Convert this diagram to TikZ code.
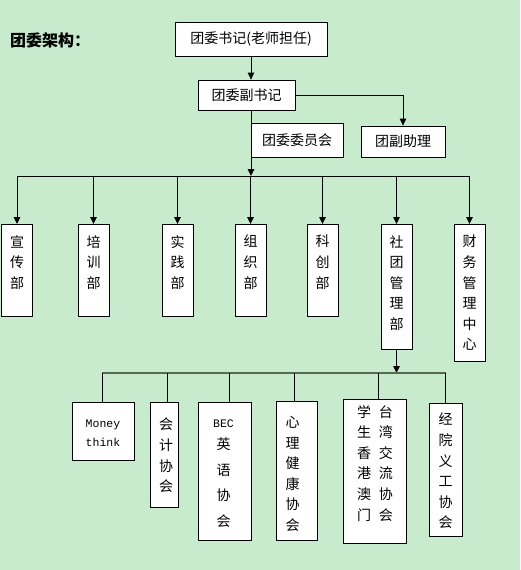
\documentclass[tikz,border=0pt]{standalone}
\usepackage{fontspec}
\setmainfont{Noto Sans CJK SC}
\newfontfamily\monofont{Liberation Mono}
\usetikzlibrary{arrows.meta}
\definecolor{bg}{RGB}{199,235,204}
\definecolor{gline}{RGB}{85,105,85}
\begin{document}
\begin{tikzpicture}[x=1pt,y=-1pt,
  box/.style={draw, fill=white, line width=0.8pt, inner sep=0pt, anchor=north},
  hbox/.style={draw, fill=white, line width=0.8pt, inner sep=0pt, font=\fontsize{14}{17}\selectfont},
  txt/.style={font=\fontsize{14}{20.6}\selectfont, align=center, inner sep=0pt, anchor=north},
  conn/.style={line width=0.9pt},
  arr/.style={conn, -{Triangle[width=6.5pt,length=7pt]}},
]
\fill[bg] (0,0) rectangle (520,570);
\useasboundingbox (0,0) rectangle (520,570);

% title
\node[anchor=west, inner sep=0pt, font=\fontsize{16}{18}\selectfont\bfseries] (title) at (10,40) {团委架构：};

% top part
\node[hbox, minimum width=152pt, minimum height=34pt] (t1) at (251,39) {团委书记(老师担任)};
\node[hbox, minimum width=97pt, minimum height=30pt] (t2) at (246.5,95) {团委副书记};
\node[hbox, minimum width=92pt, minimum height=34pt] (t3) at (297,140) {团委委员会};
\node[hbox, minimum width=84pt, minimum height=31pt] (t4) at (403,141.5) {团副助理};

\coordinate (bus1) at (251,176);
\coordinate (bus2) at (397,373);

\draw[arr] (t1.south) -- (t1.south |- t2.north);
\draw[arr] (t2.east) -| (t4.north);
\draw[arr] (t1.south |- t2.south) -- (bus1);

% departments
\node[box, minimum width=31pt, minimum height=92pt] (d1) at (17,224) {};
\node[box, minimum width=31pt, minimum height=92pt] (d2) at (93.5,224) {};
\node[box, minimum width=31pt, minimum height=92pt] (d3) at (177.5,224) {};
\node[box, minimum width=31pt, minimum height=92pt] (d4) at (250.5,224) {};
\node[box, minimum width=31pt, minimum height=92pt] (d5) at (322.5,224) {};
\node[box, minimum width=31pt, minimum height=125pt] (d6) at (396.5,224) {};
\node[box, minimum width=31pt, minimum height=137pt] (d7) at (469.5,224) {};

\node[txt] (d1t) at ([yshift=-11pt]d1.north) {宣\\传\\部};
\node[txt] (d2t) at ([yshift=-11pt]d2.north) {培\\训\\部};
\node[txt] (d3t) at ([yshift=-11pt]d3.north) {实\\践\\部};
\node[txt] (d4t) at ([yshift=-11pt]d4.north) {组\\织\\部};
\node[txt] (d5t) at ([yshift=-11pt]d5.north) {科\\创\\部};
\node[txt] (d6t) at ([yshift=-11pt]d6.north) {社\\团\\管\\理\\部};
\node[txt] (d7t) at ([yshift=-11pt]d7.north) {财\\务\\管\\理\\中\\心};

\draw[conn] (d1.north |- bus1) -- (d7.north |- bus1);
\foreach \d in {d1,d2,d3,d4,d5,d6,d7}{
  \draw[arr] (\d.north |- bus1) -- (\d.north);
}

% associations
\node[box, minimum width=62pt, minimum height=58pt] (c1) at (103,402) {};
\node[box, minimum width=28pt, minimum height=105pt] (c2) at (164,402) {};
\node[box, minimum width=53pt, minimum height=138pt] (c3) at (224.5,402) {};
\node[box, minimum width=41pt, minimum height=139pt] (c4) at (296.5,401) {};
\node[box, minimum width=63pt, minimum height=144pt] (c5) at (374.5,399) {};
\node[box, minimum width=33pt, minimum height=133pt] (c6) at (445.5,403) {};

\node[txt, font=\monofont\fontsize{11.5}{19}\selectfont] (c1t) at ([yshift=-18pt]c1.north) {Money\\think};
\node[txt] (c2t) at ([xshift=2pt,yshift=-16pt]c2.north) {会\\计\\协\\会};
\node[txt, align=center] (c3t) at ([xshift=-1pt,yshift=-18pt]c3.north) {{\monofont\fontsize{11.5}{14}\selectfont BEC}\\[1pt]英\\[5pt]语\\[5pt]协\\[5pt]会};
\node[txt] (c4t) at ([xshift=-4pt,yshift=-15pt]c4.north) {心\\理\\健\\康\\协\\会};
\node[txt] (c5t) at ([xshift=0.5pt,yshift=-6pt]c5.north) {学\hspace{8pt}台\\生\hspace{8pt}湾\\香\hspace{8pt}交\\港\hspace{8pt}流\\澳\hspace{8pt}协\\门\hspace{8pt}会};
\node[txt] (c6t) at ([yshift=-10pt]c6.north) {经\\院\\义\\工\\协\\会};

\draw[arr] (d6.south) -- (d6.south |- bus2);
\draw[line width=1.6pt, gline] ([xshift=-1pt]c1.north |- bus2) -- (c6.north |- bus2);
\draw[conn] ([xshift=-1pt]c1.north |- bus2) -- ([xshift=-1pt]c1.north);
\draw[conn] ([xshift=3pt]c2.north |- bus2) -- ([xshift=3pt]c2.north);
\draw[conn] ([xshift=4.5pt]c3.north |- bus2) -- ([xshift=4.5pt]c3.north);
\draw[conn] ([xshift=-2.5pt]c4.north |- bus2) -- ([xshift=-2.5pt]c4.north);
\draw[conn] ([xshift=3.5pt]c5.north |- bus2) -- ([xshift=3.5pt]c5.north);
\draw[conn] (c6.north |- bus2) -- (c6.north);
\end{tikzpicture}
\end{document}
